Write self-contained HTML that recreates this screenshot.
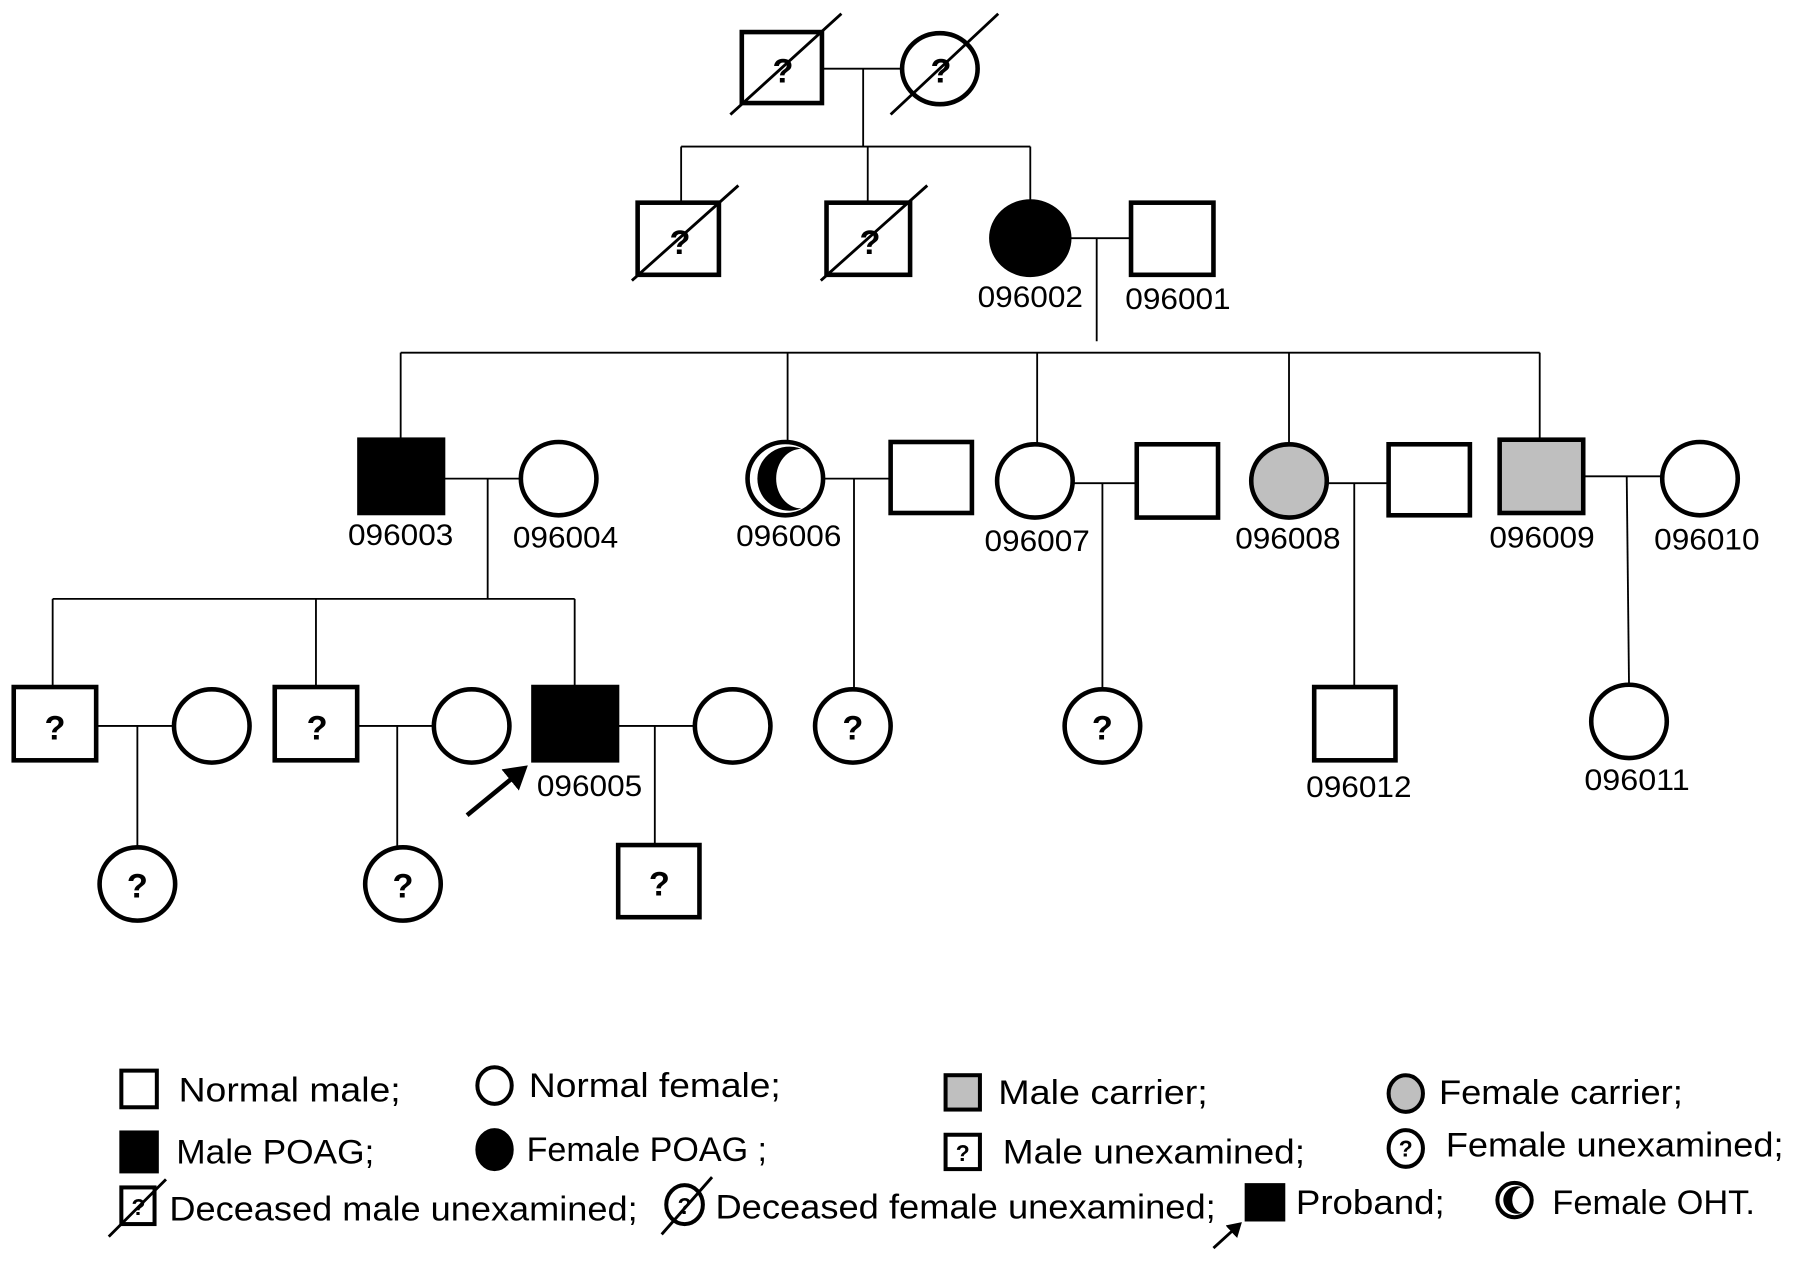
<!DOCTYPE html>
<html><head><meta charset="utf-8"><style>
html,body{margin:0;padding:0;background:#fff;}
svg{display:block}
text{font-family:"Liberation Sans",sans-serif;fill:#000}
</style></head><body>
<svg width="1795" height="1263" viewBox="0 0 1568 1103" preserveAspectRatio="none" xmlns="http://www.w3.org/2000/svg">
<defs>
<marker id="ah" markerWidth="6" markerHeight="6" refX="4" refY="3" orient="auto" markerUnits="strokeWidth"><path d="M0,0 L5,3 L0,6 z" fill="#000"/></marker>
</defs>
<g stroke="#000" stroke-width="1.6" fill="none">
<!-- gen1 -->
<line x1="718" y1="60" x2="788" y2="60"/>
<line x1="754" y1="60" x2="754" y2="128"/>
<line x1="595" y1="128" x2="900" y2="128"/>
<line x1="595" y1="128" x2="595" y2="177"/>
<line x1="758" y1="128" x2="758" y2="177"/>
<line x1="900" y1="128" x2="900" y2="176"/>
<!-- gen2 -->
<line x1="934" y1="208" x2="988" y2="208"/>
<line x1="958" y1="208" x2="958" y2="298"/>
<line x1="350" y1="308" x2="1345" y2="308"/>
<line x1="350" y1="308" x2="350" y2="384"/>
<line x1="688" y1="308" x2="688" y2="386"/>
<line x1="906" y1="308" x2="906" y2="388"/>
<line x1="1126" y1="308" x2="1126" y2="388"/>
<line x1="1345" y1="308" x2="1345" y2="384"/>
<!-- gen3 couples -->
<line x1="387" y1="418" x2="455" y2="418"/>
<line x1="426" y1="418" x2="426" y2="523"/>
<line x1="720" y1="418" x2="778" y2="418"/>
<line x1="746" y1="418" x2="746" y2="601"/>
<line x1="938" y1="422" x2="993" y2="422"/>
<line x1="963" y1="422" x2="963" y2="601"/>
<line x1="1160" y1="422" x2="1213" y2="422"/>
<line x1="1183" y1="422" x2="1183" y2="600"/>
<line x1="1383" y1="416" x2="1452" y2="416"/>
<line x1="1421" y1="416" x2="1423" y2="598"/>
<line x1="46" y1="523" x2="502" y2="523"/>
<line x1="46" y1="523" x2="46" y2="600"/>
<line x1="276" y1="523" x2="276" y2="600"/>
<line x1="502" y1="523" x2="502" y2="600"/>
<!-- gen4 couples -->
<line x1="84" y1="634" x2="152" y2="634"/>
<line x1="120" y1="634" x2="120" y2="740"/>
<line x1="312" y1="634" x2="379" y2="634"/>
<line x1="347" y1="634" x2="347" y2="740"/>
<line x1="539" y1="634" x2="607" y2="634"/>
<line x1="572" y1="634" x2="572" y2="738"/>
</g>
<g stroke="#000" stroke-width="4" fill="#fff">
<!-- gen1 -->
<rect x="648" y="28" width="70" height="62"/>
<ellipse cx="821" cy="60" rx="33" ry="31"/>
<!-- gen2 -->
<rect x="557" y="177" width="71" height="63"/>
<rect x="722" y="177" width="73" height="63"/>
<ellipse cx="900" cy="208" rx="34" ry="32" fill="#000"/>
<rect x="988" y="177" width="72" height="63"/>
<!-- gen3 -->
<rect x="314" y="384" width="73" height="64" fill="#000"/>
<ellipse cx="488" cy="418" rx="33" ry="32"/>
<ellipse cx="686" cy="418" rx="33" ry="32"/>
<rect x="778" y="386" width="71" height="62"/>
<ellipse cx="904" cy="420" rx="33" ry="32"/>
<rect x="993" y="388" width="71" height="64"/>
<ellipse cx="1126" cy="420" rx="33" ry="32" fill="#bfbfbf"/>
<rect x="1213" y="388" width="71" height="62"/>
<rect x="1310" y="384" width="73" height="64" fill="#bfbfbf"/>
<ellipse cx="1485" cy="418" rx="33" ry="32"/>
<!-- gen4 -->
<rect x="12" y="600" width="72" height="64"/>
<ellipse cx="185" cy="634" rx="33" ry="32"/>
<rect x="240" y="600" width="72" height="64"/>
<ellipse cx="412" cy="634" rx="33" ry="32"/>
<rect x="466" y="600" width="73" height="64" fill="#000"/>
<ellipse cx="640" cy="634" rx="33" ry="32"/>
<ellipse cx="745" cy="634" rx="33" ry="32"/>
<ellipse cx="963" cy="634" rx="33" ry="32"/>
<rect x="1148" y="600" width="71" height="64"/>
<ellipse cx="1423" cy="630" rx="33" ry="32"/>
<!-- gen5 -->
<ellipse cx="120" cy="772" rx="33" ry="32"/>
<ellipse cx="352" cy="772" rx="33" ry="32"/>
<rect x="540" y="738" width="71" height="63"/>
</g>
<!-- OHT crescent -->
<path d="M700,392 A28,28 0 1 0 700,444 A22,26 0 0 1 700,392 Z" fill="#000"/>
<!-- deceased slashes -->
<g stroke="#000" stroke-width="2.5">
<line x1="638" y1="100" x2="735" y2="12"/>
<line x1="778" y1="100" x2="872" y2="12"/>
<line x1="552" y1="245" x2="645" y2="162"/>
<line x1="717" y1="245" x2="810" y2="162"/>
</g>
<!-- question marks -->
<g font-weight="bold" font-size="30" text-anchor="middle">
<text x="684" y="72">?</text>
<text x="822" y="72">?</text>
<text x="594" y="222">?</text>
<text x="760" y="222">?</text>
<text x="48" y="646">?</text>
<text x="277" y="646">?</text>
<text x="745" y="646">?</text>
<text x="963" y="646">?</text>
<text x="120" y="784">?</text>
<text x="352" y="784">?</text>
<text x="576" y="782">?</text>
</g>
<!-- proband arrow -->
<line x1="408" y1="712" x2="458" y2="671" stroke="#000" stroke-width="4" marker-end="url(#ah)"/>
<!-- ID labels -->
<g font-size="26" text-anchor="middle" lengthAdjust="spacingAndGlyphs">
<text x="900" y="268" textLength="92" lengthAdjust="spacingAndGlyphs">096002</text>
<text x="1029" y="270" textLength="92" lengthAdjust="spacingAndGlyphs">096001</text>
<text x="350" y="476" textLength="92" lengthAdjust="spacingAndGlyphs">096003</text>
<text x="494" y="478" textLength="92" lengthAdjust="spacingAndGlyphs">096004</text>
<text x="689" y="477" textLength="92" lengthAdjust="spacingAndGlyphs">096006</text>
<text x="906" y="481" textLength="92" lengthAdjust="spacingAndGlyphs">096007</text>
<text x="1125" y="479" textLength="92" lengthAdjust="spacingAndGlyphs">096008</text>
<text x="1347" y="478" textLength="92" lengthAdjust="spacingAndGlyphs">096009</text>
<text x="1491" y="480" textLength="92" lengthAdjust="spacingAndGlyphs">096010</text>
<text x="515" y="695" textLength="92" lengthAdjust="spacingAndGlyphs">096005</text>
<text x="1187" y="696" textLength="92" lengthAdjust="spacingAndGlyphs">096012</text>
<text x="1430" y="690" textLength="92" lengthAdjust="spacingAndGlyphs">096011</text>
</g>
<!-- legend icons -->
<g stroke="#000" stroke-width="3.5" fill="#fff">
<rect x="106" y="935" width="31" height="32"/>
<ellipse cx="432" cy="948" rx="15" ry="16"/>
<rect x="826" y="939" width="30" height="30" fill="#bfbfbf"/>
<ellipse cx="1228" cy="955" rx="15" ry="16" fill="#bfbfbf"/>
<rect x="106" y="989" width="31" height="34" fill="#000"/>
<ellipse cx="432" cy="1004" rx="15" ry="17" fill="#000"/>
<rect x="826" y="991" width="30" height="30"/>
<ellipse cx="1228" cy="1003" rx="15" ry="16"/>
<rect x="106" y="1037" width="29" height="32"/>
<ellipse cx="598" cy="1052" rx="16" ry="17"/>
<rect x="1089" y="1035" width="32" height="30" fill="#000"/>
<ellipse cx="1323" cy="1048" rx="15" ry="15"/>
</g>
<path d="M1330,1037 A12,12 0 1 0 1330,1059 A9,11 0 0 1 1330,1037 Z" fill="#000"/>
<g stroke="#000" stroke-width="2.5">
<line x1="95" y1="1080" x2="145" y2="1030"/>
<line x1="578" y1="1078" x2="622" y2="1028"/>
</g>
<line x1="1060" y1="1090" x2="1083" y2="1069" stroke="#000" stroke-width="2.5" marker-end="url(#ah)"/>
<g font-weight="bold" font-size="20" text-anchor="middle">
<text x="841" y="1014">?</text>
<text x="1228" y="1010">?</text>
<text x="121" y="1061">?</text>
<text x="598" y="1060">?</text>
</g>
<!-- legend text -->
<g font-size="30">
<text x="156" y="962" textLength="194" lengthAdjust="spacingAndGlyphs">Normal male;</text>
<text x="462" y="958" textLength="220" lengthAdjust="spacingAndGlyphs">Normal female;</text>
<text x="872" y="964" textLength="183" lengthAdjust="spacingAndGlyphs">Male carrier;</text>
<text x="1257" y="964" textLength="213" lengthAdjust="spacingAndGlyphs">Female carrier;</text>
<text x="154" y="1016" textLength="173" lengthAdjust="spacingAndGlyphs">Male POAG;</text>
<text x="460" y="1014" textLength="210" lengthAdjust="spacingAndGlyphs">Female POAG ;</text>
<text x="876" y="1016" textLength="264" lengthAdjust="spacingAndGlyphs">Male unexamined;</text>
<text x="1263" y="1010" textLength="295" lengthAdjust="spacingAndGlyphs">Female unexamined;</text>
<text x="148" y="1066" textLength="409" lengthAdjust="spacingAndGlyphs">Deceased male unexamined;</text>
<text x="625" y="1064" textLength="437" lengthAdjust="spacingAndGlyphs">Deceased female unexamined;</text>
<text x="1132" y="1060" textLength="130" lengthAdjust="spacingAndGlyphs">Proband;</text>
<text x="1356" y="1060" textLength="177" lengthAdjust="spacingAndGlyphs">Female OHT.</text>
</g>
</svg>
</body></html>
